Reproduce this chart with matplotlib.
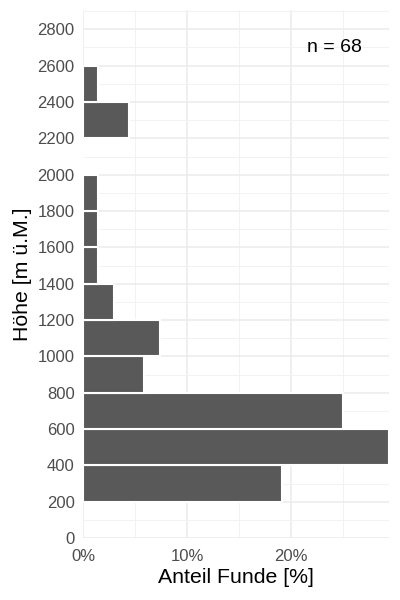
import matplotlib
matplotlib.use("Agg")
import matplotlib.pyplot as plt
import numpy as np
from matplotlib.ticker import MultipleLocator, FuncFormatter

plt.rcParams['font.family'] = ['Liberation Sans', 'DejaVu Sans']

bin_starts = [200, 400, 600, 800, 1000, 1200, 1400, 1600, 1800, 2000, 2200, 2400]
counts = [13, 20, 17, 4, 5, 2, 1, 1, 1, 0, 3, 1]
n_total = 68
shares = [c / n_total * 100 for c in counts]
bin_width = 200

fig = plt.figure(figsize=(4, 6), dpi=100)
ax = fig.add_axes([0.2075, 0.103, 0.765, 0.88])

ax.barh(bin_starts, shares, height=bin_width, align='edge', color='#595959',
        edgecolor='white', linewidth=1.5, zorder=3)

ax.set_xlim(0, max(shares))
ax.set_ylim(0, 2905)
ax.yaxis.set_major_locator(MultipleLocator(200))
ax.yaxis.set_minor_locator(MultipleLocator(100))
ax.xaxis.set_major_locator(MultipleLocator(10))
ax.xaxis.set_minor_locator(MultipleLocator(5))
ax.xaxis.set_major_formatter(FuncFormatter(lambda v, p: f"{int(round(v))}%"))

ax.grid(which='major', color='#EBEBEB', linewidth=1.1, zorder=0)
ax.grid(which='minor', color='#F2F2F2', linewidth=0.7, zorder=0)
for s in ax.spines.values():
    s.set_visible(False)
ax.tick_params(which='both', length=0)
ax.tick_params(axis='y', labelsize=12, labelcolor='#4D4D4D', pad=6)
ax.tick_params(axis='x', labelsize=12, labelcolor='#4D4D4D', pad=8)

ax.set_xlabel('Anteil Funde [%]', fontsize=15.3, color='black', labelpad=3)
ax.set_ylabel('Höhe [m ü.M.]', fontsize=15.3, color='black', labelpad=4)

ax.text(24.2, 2700, f'n = {n_total}', fontsize=14, color='black', ha='center', va='center')

fig.savefig('out.png', dpi=100, facecolor='white')
